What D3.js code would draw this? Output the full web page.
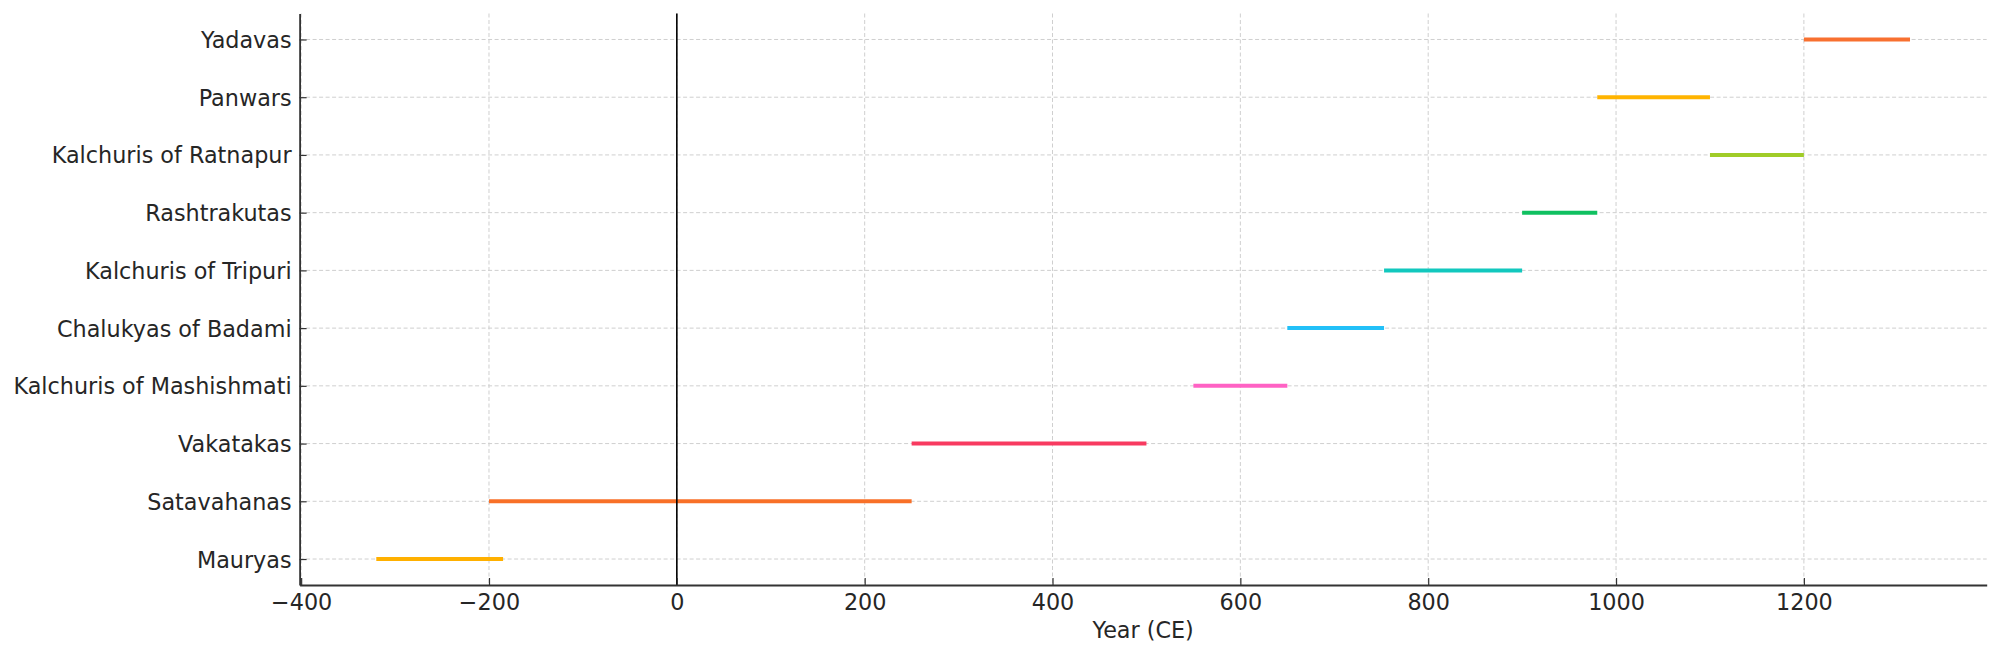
<!DOCTYPE html>
<html>
<head>
<meta charset="utf-8">
<script src="https://cdn.jsdelivr.net/npm/d3@7"></script>
<style>
  html, body { margin: 0; padding: 0; background: #ffffff; }
  svg { display: block; }
  text { font-family: "DejaVu Sans", sans-serif; fill: #262626; }
</style>
</head>
<body>
<svg id="chart" width="1999" height="658"></svg>
<script>
// Dynasties from bottom to top
const dynasties = ["Mauryas", "Satavahanas", "Vakatakas", "Kalchuris of Mashishmati", "Chalukyas of Badami", "Kalchuris of Tripuri", "Rashtrakutas", "Kalchuris of Ratnapur", "Panwars", "Yadavas"];
const startYears = [-320, -200, 250, 550, 650, 753, 900, 1100, 980, 1200];
const endYears = [-185, 250, 500, 650, 753, 900, 980, 1200, 1100, 1313];
const colors = ["#ffb000", "#f87028", "#f83a60", "#ff62c4", "#22c0f8", "#12c8be", "#10c060", "#a0cc28", "#ffb400", "#f87030"];
const xTicks = [-400, -200, 0, 200, 400, 600, 800, 1000, 1200];
const xLabel = "Year (CE)";

(function () {
const svg = d3.select("#chart");
const mLeft = 299.6, mRight = 1986.7, mTop = 13.5, mBottom = 585;
const fs = 22.3;

const x = d3.scaleLinear().domain([-401.65, 1394.65]).range([mLeft, mRight]);
const y = d3.scaleLinear().domain([-0.45, 9.45]).range([mBottom, mTop]);

// grid
const grid = svg.append("g");
grid.selectAll("line.vg").data(xTicks).enter().append("line")
  .attr("x1", d => x(d)).attr("x2", d => x(d))
  .attr("y1", mTop).attr("y2", mBottom)
  .attr("stroke", "#cfcfcf").attr("stroke-width", 1).attr("stroke-dasharray", "4,2.5");
grid.selectAll("line.hg").data(dynasties).enter().append("line")
  .attr("x1", mLeft).attr("x2", mRight)
  .attr("y1", (d, i) => y(i)).attr("y2", (d, i) => y(i))
  .attr("stroke", "#cfcfcf").attr("stroke-width", 1).attr("stroke-dasharray", "4,2.5");

// bars
svg.append("g").selectAll("line").data(dynasties).enter().append("line")
  .attr("x1", (d, i) => x(startYears[i]))
  .attr("x2", (d, i) => x(endYears[i]))
  .attr("y1", (d, i) => y(i)).attr("y2", (d, i) => y(i))
  .attr("stroke", (d, i) => colors[i])
  .attr("stroke-width", 4);

// zero line
svg.append("line")
  .attr("x1", x(0)).attr("x2", x(0))
  .attr("y1", mTop).attr("y2", mBottom)
  .attr("stroke", "#000").attr("stroke-width", 1.6);

// x axis
const xAxis = d3.axisBottom(x).tickValues(xTicks).tickFormat(d3.format("d"))
  .tickSizeInner(-7).tickSizeOuter(0).tickPadding(9);
const gx = svg.append("g").attr("transform", `translate(0,${mBottom})`).call(xAxis);
gx.select(".domain").attr("stroke", "#333").attr("stroke-width", 1.8);
gx.selectAll(".tick line").attr("stroke", "#333").attr("stroke-width", 1.2);
gx.selectAll(".tick text").attr("font-size", fs).attr("font-family", "DejaVu Sans").attr("fill", "#262626");

// y axis
const yAxis = d3.axisLeft(y).tickValues(d3.range(dynasties.length)).tickFormat(i => dynasties[i])
  .tickSizeInner(-7).tickSizeOuter(0).tickPadding(8);
const gy = svg.append("g").attr("transform", `translate(${mLeft},0)`).call(yAxis);
gy.select(".domain").attr("stroke", "#333").attr("stroke-width", 1.8);
gy.selectAll(".tick line").attr("stroke", "#333").attr("stroke-width", 1.2);
gy.selectAll(".tick text").attr("font-size", fs).attr("font-family", "DejaVu Sans").attr("fill", "#262626")
  .attr("dy", "0.36em");

// x label
svg.append("text")
  .attr("x", (mLeft + mRight) / 2).attr("y", 638)
  .attr("text-anchor", "middle")
  .attr("font-size", fs)
  .text(xLabel);
})();
</script>
</body>
</html>
